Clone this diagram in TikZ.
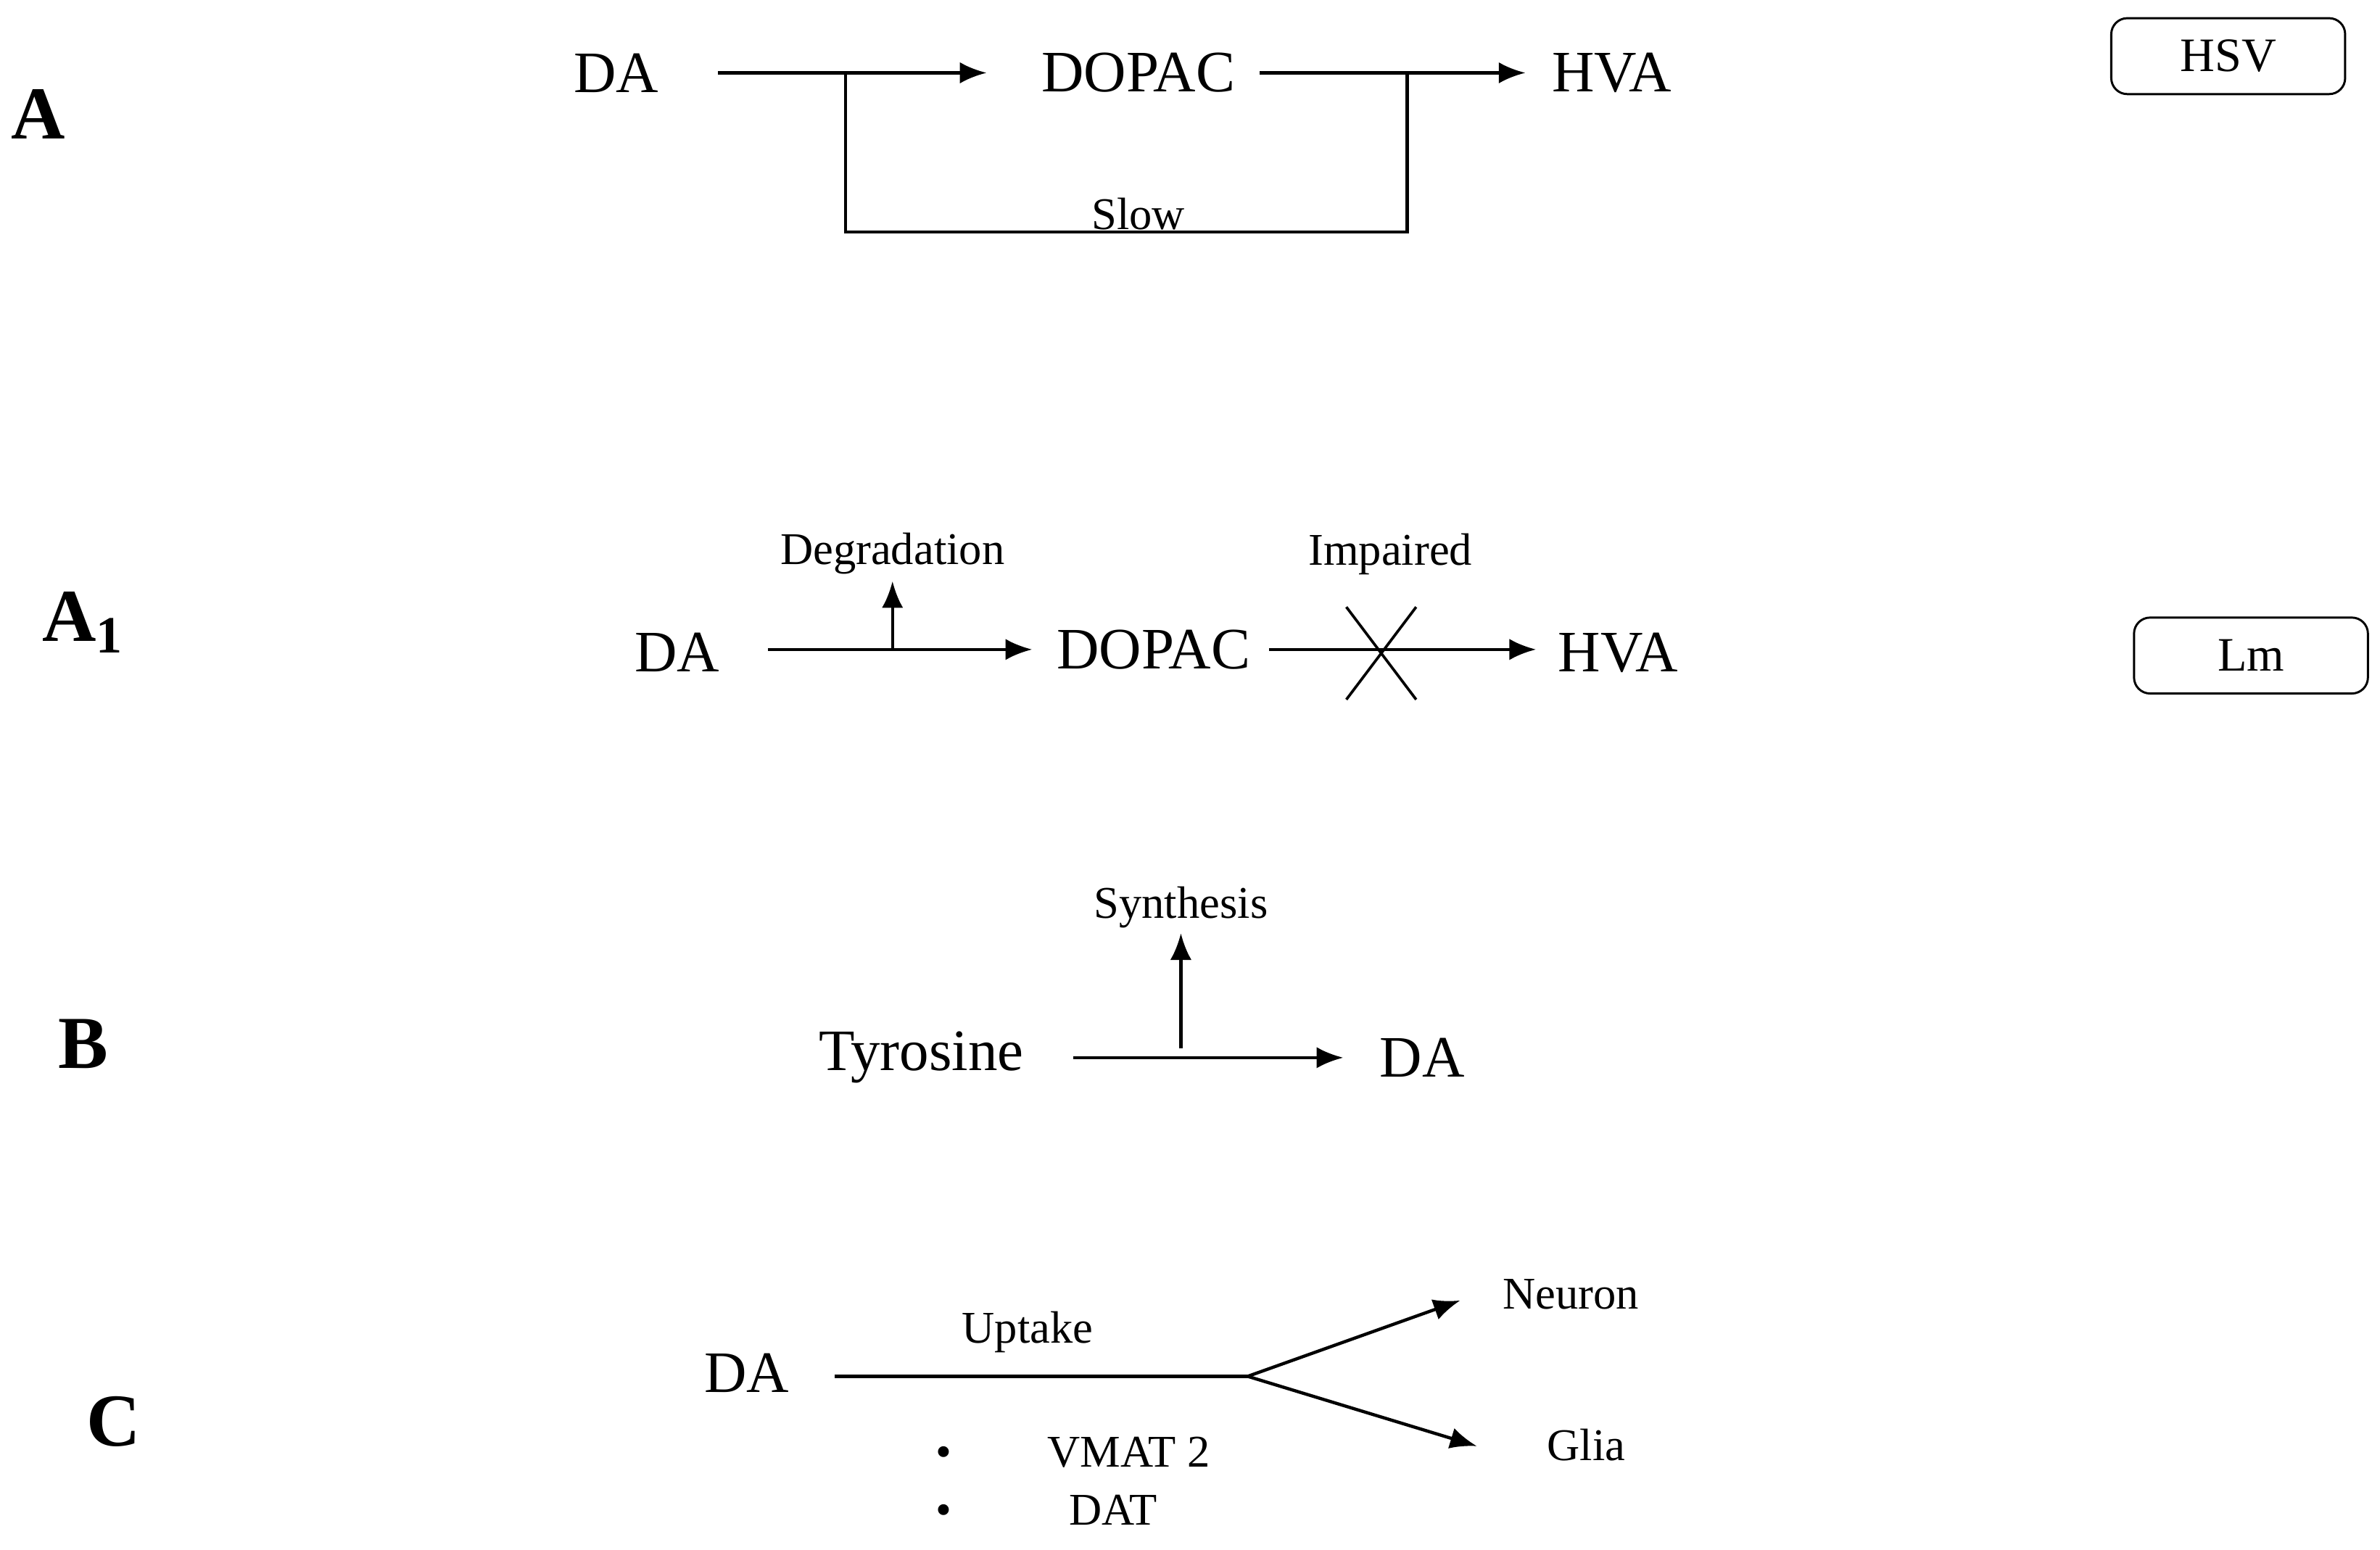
\documentclass[tikz,border=0pt]{standalone}
\usepackage{fontspec}
\setmainfont{Liberation Serif}
\usetikzlibrary{arrows.meta}
\usetikzlibrary{positioning}
\tikzset{
  big/.style={font=\fontsize{11}{13}\selectfont},
  small/.style={font=\fontsize{8.5}{10}\selectfont},
  panel/.style={font=\fontsize{14}{16}\selectfont\bfseries},
  tag/.style={draw=black, rounded corners=3pt, minimum width=1.54cm, minimum height=0.5cm, font=\fontsize{9}{11}\selectfont},
  arr/.style={-{Latex[length=5pt,width=4pt]}, line width=0.6pt},
}
\begin{document}
\begin{tikzpicture}[x=0.01cm, y=-0.01cm]
  \useasboundingbox (0,0) rectangle (1568,1021);
  % panel A
  \node[panel] (lA) at (25,75) {A};
  \node[big] (A1) at (406,48) {DA};
  \node[big] (A2) at (750,48) {DOPAC};
  \node[big] (A3) at (1062,48) {HVA};
  \node[tag] (hsv) at (1468,37) {HSV};
  \coordinate (a1) at (473,48);
  \coordinate (a2) at (650,48);
  \coordinate (a3) at (830,48);
  \coordinate (a4) at (1005,48);
  \path [arr] (a1) edge (a2);
  \path [arr] (a3) edge (a4);
  \draw[line width=0.6pt] (557,48) |- (927,153) -- (927,48);
  \node[small] (slow) at (750,141) {Slow};
  % panel A1
  \node[panel] (lA1) at (55,410) {A$_{\mathbf 1}$};
  \node[big] (B1) at (446,430) {DA};
  \node[big] (B2) at (760,428) {DOPAC};
  \node[big] (B3) at (1066,430) {HVA};
  \node[tag] (lm) at (1483,432) {Lm};
  \coordinate (b1) at (506,428);
  \coordinate (b2) at (680,428);
  \coordinate (b3) at (836,428);
  \coordinate (b4) at (1012,428);
  \coordinate (b5) at (588,428);
  \node[small] (deg) at (588,365) {Degradation};
  \node[small] (imp) at (916,365) {Impaired};
  \path [arr] (b1) edge (b2);
  \path [arr] (b3) edge (b4);
  \path [arr] (b5) edge (588,383);
  \draw[line width=0.5pt] (887,400) -- (933,461) (933,400) -- (887,461);
  % panel B
  \node[panel] (lB) at (55,688) {B};
  \node[big] (C1) at (607,697) {Tyrosine};
  \node[big] (C2) at (937,697) {DA};
  \coordinate (c1) at (707,697);
  \coordinate (c2) at (885,697);
  \coordinate (c3) at (778,691);
  \node[small] (syn) at (778,598) {Synthesis};
  \path [arr] (c1) edge (c2);
  \path [arr] (c3) edge (778,615);
  % panel C
  \node[panel] (lC) at (75,937) {C};
  \node[big] (D1) at (492,905) {DA};
  \node[small] (neu) at (1035,853) {Neuron};
  \node[small] (gli) at (1045,952) {Glia};
  \node[small] (upt) at (677,878) {Uptake};
  \coordinate (d1) at (550,907);
  \coordinate (d2) at (822,907);
  \draw[line width=0.6pt] (d1) -- (d2);
  \path [arr] (d2) edge (962,857);
  \path [arr] (d2) edge (973,953);
  \node[small, anchor=west] (vmat) at (604,957) {\textbullet\hspace{18pt}VMAT 2};
  \node[small, anchor=west] (dat) at (604,995) {\textbullet\hspace{22pt}DAT};
\end{tikzpicture}
\end{document}
